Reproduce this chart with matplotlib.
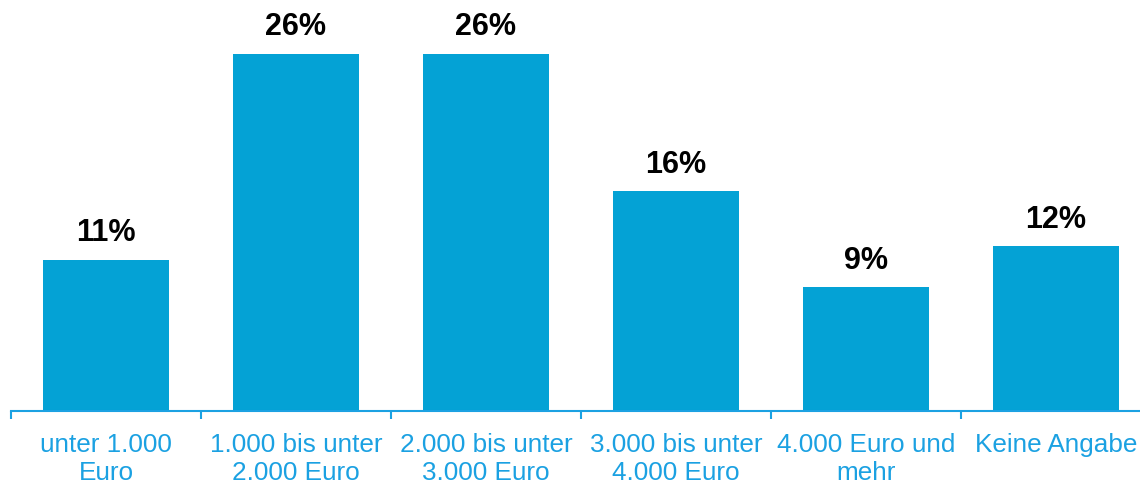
import matplotlib
matplotlib.use("Agg")
import matplotlib.pyplot as plt

categories = ["unter 1.000\nEuro", "1.000 bis unter\n2.000 Euro", "2.000 bis unter\n3.000 Euro",
              "3.000 bis unter\n4.000 Euro", "4.000 Euro und\nmehr", "Keine Angabe"]
values = [11, 26, 26, 16, 9, 12]
value_labels = ["11%", "26%", "26%", "16%", "9%", "12%"]

plt.rcParams['font.family'] = ['Liberation Sans', 'DejaVu Sans']

W, H = 1140, 485
fig = plt.figure(figsize=(W / 100, H / 100), dpi=100)
ax = fig.add_axes([11 / W, 73 / H, 1140 / W, 412 / H])

bar_color = "#04A2D5"
axis_color = "#1BA1E2"

x = list(range(len(values)))
bars = ax.bar(x, values, width=0.663, color=bar_color)
ax.set_xlim(-0.5, len(values) - 0.5)
ax.set_ylim(0, 30)

for xi, v, lab in zip(x, values, value_labels):
    ax.annotate(lab, (xi, v), xytext=(0, 9), textcoords="offset points",
                ha="center", va="bottom", fontsize=22, fontweight="bold", color="black")

for s in ["top", "right", "left"]:
    ax.spines[s].set_visible(False)
ax.spines["bottom"].set_color(axis_color)
ax.spines["bottom"].set_linewidth(1.5)
ax.set_yticks([])

bounds = [i - 0.5 for i in range(len(values))]
ax.set_xticks(bounds)
ax.set_xticklabels([])
ax.tick_params(axis="x", which="major", length=6, width=1.5, color=axis_color)
ax.set_xticks(x, minor=True)
ax.set_xticklabels(categories, minor=True, fontsize=18.8, color=axis_color, linespacing=1.2)
ax.tick_params(axis="x", which="minor", length=0, pad=15)

fig.savefig("out.png", dpi=100)
